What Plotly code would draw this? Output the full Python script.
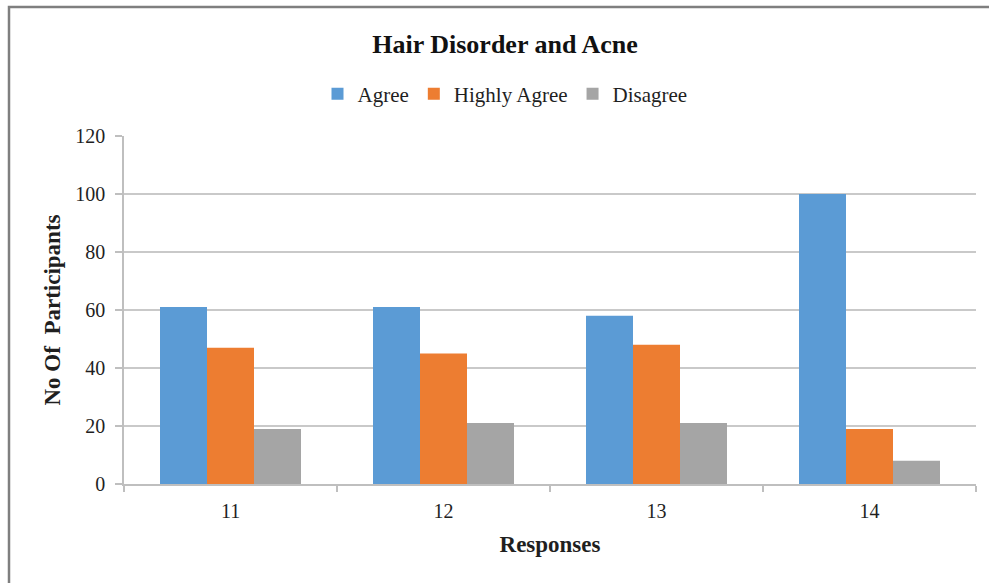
import plotly.graph_objects as go

# Survey responses by question number
categories = ["11", "12", "13", "14"]
agree = [61, 61, 58, 100]
highly_agree = [47, 45, 48, 19]
disagree = [19, 21, 21, 8]

series_names = ["Agree", "Highly Agree", "Disagree"]
series_colors = ["#5B9BD5", "#ED7D31", "#A5A5A5"]

W, H = 989, 583
L, R, T, B = 124, 13, 136, 99  # plot area 124..976 x 136..484
PW, PH = W - L - R, H - T - B

def px(x):
    return (x - L) / PW

def py(y):
    return (H - B - y) / PH

serif = "Liberation Serif, Times New Roman, serif"
text_col = "#1F1F1F"

fig = go.Figure()
for name, vals, col in zip(series_names, [agree, highly_agree, disagree], series_colors):
    fig.add_trace(go.Bar(x=categories, y=vals, name=name, marker=dict(color=col, line=dict(width=0))))

fig.update_layout(
    width=W, height=H,
    margin=dict(l=L, r=R, t=T, b=B),
    paper_bgcolor="white", plot_bgcolor="white",
    barmode="group", bargap=0.338, bargroupgap=0,
    font=dict(family=serif, color=text_col),
    title=dict(text="<b>Hair Disorder and Acne</b>", x=505 / W, xanchor="center",
               y=1 - 44 / H, yanchor="middle", font=dict(size=26, family=serif, color="#111")),
    legend=dict(orientation="h", x=px(505), xanchor="center", y=py(94), yanchor="middle",
                font=dict(size=21, family=serif, color=text_col), itemwidth=30,
                traceorder="normal", bgcolor="rgba(0,0,0,0)"),
    showlegend=True,
)

fig.update_xaxes(
    type="category", showgrid=False, showline=True, linecolor="#BFBFBF", linewidth=1.5,
    ticks="outside", tickson="boundaries", ticklen=6, tickcolor="#BFBFBF", tickwidth=1.5,
    tickfont=dict(size=20, family=serif, color=text_col), ticklabelstandoff=8,
    title=dict(text="<b>Responses</b>", font=dict(size=23, family=serif, color=text_col), standoff=15),
)
fig.update_yaxes(
    range=[0, 120], dtick=20, showgrid=True, gridcolor="#C9C9C9", gridwidth=1.5,
    showline=True, linecolor="#BFBFBF", linewidth=1.5,
    ticks="outside", ticklen=7, tickcolor="#BFBFBF", tickwidth=1.5,
    tickfont=dict(size=20, family=serif, color=text_col), ticklabelstandoff=6, zeroline=False,
    title=dict(text="<b>No Of  Participants</b>", font=dict(size=23, family=serif, color=text_col), standoff=8),
)

# outer chart frame (top and left edges visible)
fig.add_shape(type="rect", xref="paper", yref="paper",
              x0=px(9), x1=px(1010), y0=py(600), y1=py(7),
              line=dict(color="#7F7F7F", width=2.5), fillcolor="rgba(0,0,0,0)", layer="above")

fig.write_html("out.html")
